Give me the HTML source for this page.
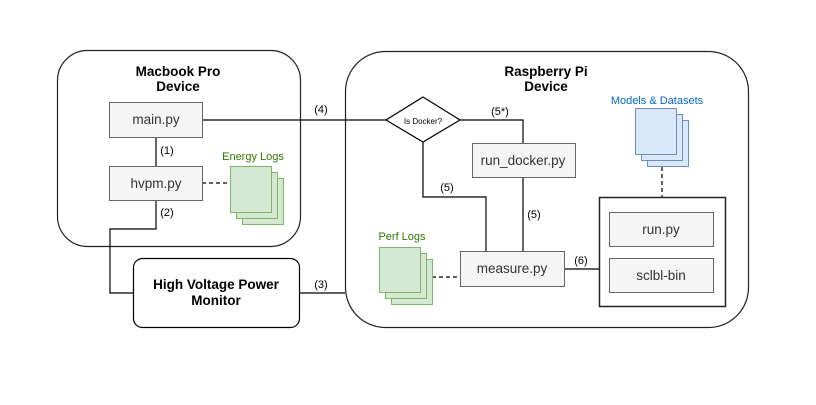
<!DOCTYPE html>
<html><head><style>body{margin:0;background:#fff}svg{display:block}text{font-family:"Liberation Sans",Helvetica,Arial,sans-serif}</style></head><body>
<svg width="816" height="405" viewBox="0 0 816 405" xmlns="http://www.w3.org/2000/svg">
<g fill="none" stroke="#000" stroke-width="1.2">
<rect x="57.5" y="50.5" width="243" height="196" rx="30" stroke="#222"/>
<rect x="345.5" y="51.5" width="403" height="276" rx="40" stroke="#222"/>
<rect x="133.5" y="258.5" width="166" height="69" rx="9"/>
<path d="M202 120H386"/>
<path d="M156 137V166"/>
<path d="M156 200V229H110V293H133"/>
<path d="M299 293H345"/>
<path d="M460 120H523V143"/>
<path d="M423 142V197H486V251"/>
<path d="M523 177V251"/>
<path d="M564 269H599"/>
<path d="M202 183H230" stroke-dasharray="4 3"/>
<path d="M432 277H460" stroke-dasharray="4 3"/>
<path d="M662 160V197" stroke-dasharray="4 3"/>
</g>
<polygon points="423,97 460,120 423,142 386,120" fill="#fff" stroke="#000" stroke-width="1.2"/>
<rect x="599.5" y="197.5" width="126" height="109" fill="#fff" stroke="#222" stroke-width="1.5"/>
<g fill="#f5f5f5" stroke="#666">
<rect x="109.5" y="102.5" width="93" height="35"/>
<rect x="109.5" y="166.5" width="93" height="34"/>
<rect x="472.5" y="143.5" width="103" height="34"/>
<rect x="460.5" y="251.5" width="104" height="35"/>
<rect x="609.5" y="212.5" width="104" height="34"/>
<rect x="609.5" y="258.5" width="104" height="34"/>
</g>
<g fill="#d5e8d4" stroke="#82b366">
<rect x="242.5" y="178.5" width="41" height="46"/><rect x="236.5" y="172.5" width="41" height="46"/><rect x="230.5" y="166.5" width="41" height="46"/>
<rect x="391.5" y="259.5" width="41" height="45"/><rect x="385.5" y="253.5" width="41" height="45"/><rect x="379.5" y="247.5" width="41" height="45"/>
</g>
<g fill="#dae8fc" stroke="#6c8ebf">
<rect x="647.5" y="120.5" width="41" height="46"/><rect x="641.5" y="114.5" width="41" height="46"/><rect x="635.5" y="108.5" width="41" height="46"/>
</g>
<g font-size="13.5" text-anchor="middle" fill="#333">
<text x="156" y="124">main.py</text>
<text x="156" y="188">hvpm.py</text>
<text x="523" y="165">run_docker.py</text>
<text x="512" y="273">measure.py</text>
<text x="661" y="234">run.py</text>
<text x="661" y="280">sclbl-bin</text>
</g>
<g font-size="13.5" font-weight="bold" text-anchor="middle" fill="#000">
<text x="178" y="76">Macbook Pro</text><text x="178" y="91">Device</text>
<text x="546" y="76">Raspberry Pi</text><text x="546" y="91">Device</text>
<text x="216" y="289">High Voltage Power</text><text x="216" y="305">Monitor</text>
</g>
<g font-size="11" text-anchor="middle" fill="#000">
<text x="167" y="154">(1)</text>
<text x="167" y="216">(2)</text>
<text x="321" y="288">(3)</text>
<text x="321" y="113">(4)</text>
<text x="500" y="115">(5*)</text>
<text x="447" y="191">(5)</text>
<text x="534" y="218">(5)</text>
<text x="581" y="264">(6)</text>
</g>
<text x="423" y="124" font-size="8" text-anchor="middle">Is Docker?</text>
<g font-size="11" text-anchor="middle">
<text x="253" y="160" fill="#2d7600">Energy Logs</text>
<text x="402" y="240" fill="#2d7600">Perf Logs</text>
<text x="657" y="104" fill="#0066cc">Models &amp; Datasets</text>
</g>
</svg>
</body></html>
